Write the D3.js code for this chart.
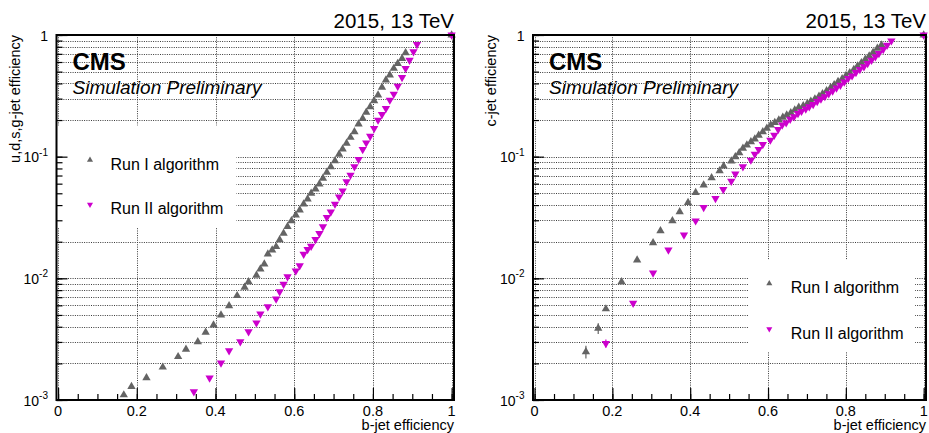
<!DOCTYPE html>
<html><head><meta charset="utf-8">
<script src="https://cdn.jsdelivr.net/npm/d3@7/dist/d3.min.js"></script>
<style>
body{margin:0;background:#fff}
svg{display:block}
text{font-family:"Liberation Sans",Arial,Helvetica,sans-serif;fill:#000}
</style>
</head><body>
<svg id="chart" width="929" height="433"></svg>
<script>
// ---------------- DATA ----------------
// Left panel: light-flavour (u,d,s,g) mistag efficiency vs b-jet efficiency
const leftRun1Eff = [0.167,0.1865,0.2246,0.266,0.305,0.325,0.355,0.375,0.395,0.414,0.4345,0.455,0.474,0.484,0.504,0.514,0.524,0.533,0.544,0.554,0.563,0.573,0.583,0.593,0.604,0.614,0.624,0.634,0.643,0.654,0.664,0.673,0.683,0.693,0.7036,0.714,0.723,0.733,0.743,0.753,0.7635,0.774,0.783,0.793,0.803,0.813,0.823,0.833,0.843,0.853,0.863,0.874,0.883,1.0];
const leftRun1Mis = [1.10e-3,1.29e-3,1.52e-3,1.86e-3,2.27e-3,2.61e-3,3.01e-3,3.60e-3,4.13e-3,4.99e-3,5.95e-3,7.20e-3,8.43e-3,9.37e-3,1.06e-2,1.19e-2,1.31e-2,1.58e-2,1.71e-2,1.82e-2,2.07e-2,2.34e-2,2.66e-2,2.97e-2,3.31e-2,3.64e-2,4.08e-2,4.48e-2,4.99e-2,5.42e-2,5.96e-2,6.63e-2,7.43e-2,8.26e-2,9.25e-2,0.1045,0.1154,0.1285,0.1439,0.160,0.185,0.206,0.231,0.257,0.288,0.321,0.371,0.426,0.468,0.531,0.583,0.641,0.714,1.0];
const leftRun2Eff = [0.345,0.385,0.414,0.4345,0.463,0.484,0.504,0.514,0.533,0.554,0.563,0.573,0.583,0.604,0.614,0.624,0.634,0.643,0.654,0.664,0.673,0.683,0.693,0.7036,0.714,0.723,0.733,0.743,0.753,0.7635,0.774,0.783,0.793,0.803,0.813,0.823,0.833,0.843,0.853,0.863,0.874,0.883,0.893,0.903,0.912,1.0];
const leftRun2Mis = [1.17e-3,1.52e-3,2.02e-3,2.54e-3,3.01e-3,3.64e-3,4.31e-3,5.09e-3,5.85e-3,6.76e-3,7.76e-3,8.97e-3,1.03e-2,1.15e-2,1.27e-2,1.58e-2,1.73e-2,1.84e-2,2.09e-2,2.34e-2,2.66e-2,3.17e-2,3.52e-2,4.08e-2,4.68e-2,5.24e-2,6.22e-2,7.06e-2,8.26e-2,9.5e-2,0.1148,0.130,0.1476,0.1706,0.200,0.2225,0.249,0.292,0.327,0.380,0.448,0.531,0.622,0.728,0.837,1.0];

// Right panel: c-jet mistag efficiency vs b-jet efficiency
const rightRun1Eff = [0.132,0.1636,0.1833,0.2236,0.2636,0.3046,0.3236,0.3543,0.373,0.3944,0.414,0.4346,0.455,0.4756,0.486,0.5056,0.516,0.526,0.5355,0.5456,0.556,0.566,0.576,0.5866,0.597,0.607,0.6174,0.6277,0.638,0.648,0.6585,0.6687,0.679,0.6905,0.701,0.710,0.7205,0.731,0.740,0.7505,0.761,0.770,0.780,0.7905,0.800,0.810,0.8205,0.830,0.840,0.850,0.860,0.870,0.881,0.8915,1.0];
const rightRun1Mis = [2.49e-3,3.88e-3,5.6e-3,9.37e-3,1.41e-2,1.96e-2,2.46e-2,2.97e-2,3.52e-2,4.2e-2,5.06e-2,5.85e-2,6.71e-2,7.66e-2,8.37e-2,9.2e-2,0.0998,0.1076,0.117,0.1245,0.1325,0.1395,0.150,0.160,0.171,0.182,0.191,0.200,0.2105,0.220,0.2296,0.2415,0.254,0.262,0.273,0.285,0.298,0.313,0.329,0.348,0.369,0.390,0.414,0.437,0.462,0.489,0.521,0.555,0.592,0.631,0.671,0.719,0.776,0.826,1.0];
const rightRun1Err = [0.3e-3,0.4e-3];   // errors on the first points (others negligible)
const rightRun2Eff = [0.1833,0.2533,0.3046,0.344,0.384,0.414,0.4346,0.465,0.485,0.5056,0.516,0.5355,0.556,0.566,0.576,0.5866,0.606,0.616,0.626,0.6365,0.6467,0.657,0.667,0.677,0.686,0.697,0.706,0.716,0.7265,0.736,0.746,0.756,0.766,0.776,0.786,0.796,0.806,0.816,0.826,0.836,0.8465,0.856,0.866,0.876,0.885,0.896,0.906,0.917,1.0];
const rightRun2Mis = [2.92e-3,6.24e-3,1.11e-2,1.71e-2,2.27e-2,2.97e-2,3.83e-2,4.54e-2,5.38e-2,6.3e-2,7.2e-2,8.26e-2,9.38e-2,0.105,0.1148,0.126,0.137,0.150,0.1675,0.182,0.190,0.203,0.213,0.227,0.236,0.2465,0.258,0.269,0.284,0.298,0.312,0.329,0.347,0.368,0.387,0.412,0.440,0.462,0.493,0.521,0.549,0.585,0.622,0.663,0.706,0.762,0.826,0.896,1.0];
const rightRun2Err = [0.22e-3];

const seriesNames = ["Run I algorithm", "Run II algorithm"];
const xTickValues = [0, 0.2, 0.4, 0.6, 0.8, 1];
const xTickLabels = ["0", "0.2", "0.4", "0.6", "0.8", "1"];
const yMajorValues = [1e-3, 1e-2, 1e-1, 1];
const yMajorBase = ["10", "10", "10", "1"];
const yMajorExp = ["-3", "-2", "-1", ""];
const energyLabel = "2015, 13 TeV";
const xTitle = "b-jet efficiency";
const yTitles = ["u,d,s,g-jet efficiency", "c-jet efficiency"];

// ---------------- STYLE ----------------
const colRun1 = "#646464";
const colRun2 = "#cc00cc";
const svg = d3.select("#chart");
const plotTop = 35, plotBottom = 400;

const yMinor = [];
for (let e = -3; e < 0; e++) for (let m = 1; m <= 9; m++) yMinor.push(m * Math.pow(10, e));
yMinor.push(1);
const xMinor = d3.range(0, 1.0001, 0.05);

function makeErr(errArr, n) {
  const out = new Array(n).fill(0);
  errArr.forEach((e, i) => out[i] = e);
  return out;
}

function panel(cfg) {
  const g = svg.append("g");
  const x = d3.scaleLinear().domain([-0.004, 1.006]).range([cfg.x0, cfg.x1]);
  const y = d3.scaleLog().domain([1e-3, 1]).range([plotBottom, plotTop]);

  // grid
  const grid = g.append("g").attr("stroke", "#3a3a3a").attr("stroke-width", 1)
    .attr("stroke-dasharray", "1,1.3").attr("fill", "none");
  grid.selectAll("line.h").data(yMinor).join("line").attr("class", "h")
    .attr("x1", cfg.x0).attr("x2", cfg.x1)
    .attr("y1", d => Math.round(y(d)) + 0.5).attr("y2", d => Math.round(y(d)) + 0.5);
  grid.selectAll("line.v").data(xTickValues).join("line").attr("class", "v")
    .attr("x1", d => Math.round(x(d)) + 0.5).attr("x2", d => Math.round(x(d)) + 0.5)
    .attr("y1", plotTop).attr("y2", plotBottom);

  // legend box (white, covers grid)
  g.append("rect").attr("x", cfg.legBox[0]).attr("y", cfg.legBox[1])
    .attr("width", cfg.legBox[2]).attr("height", cfg.legBox[3]).attr("fill", "#fff");

  // data
  const tri = d3.symbol().type(d3.symbolTriangle).size(30);
  const series = [
    {eff: cfg.r1e, mis: cfg.r1m, err: makeErr(cfg.r1err || [], cfg.r1e.length), col: colRun1, rot: 0},
    {eff: cfg.r2e, mis: cfg.r2m, err: makeErr(cfg.r2err || [], cfg.r2e.length), col: colRun2, rot: 180}
  ];
  series.forEach(s => {
    const pts = s.eff.map((e, i) => ({x: e, y: s.mis[i], err: s.err[i]}));
    g.append("g").selectAll("line").data(pts.filter(p => p.err > 0)).join("line")
      .attr("x1", p => x(p.x)).attr("x2", p => x(p.x))
      .attr("y1", p => y(p.y - p.err)).attr("y2", p => y(p.y + p.err))
      .attr("stroke", s.col).attr("stroke-width", 1.2);
    g.append("g").selectAll("path").data(pts).join("path")
      .attr("d", tri)
      .attr("transform", p => `translate(${x(p.x)},${y(p.y)}) rotate(${s.rot})`)
      .attr("fill", s.col);
  });

  // axes ticks (inward)
  const ax = g.append("g").attr("transform", `translate(0,${plotBottom})`);
  ax.call(d3.axisBottom(x).tickValues(xMinor).tickSize(-6).tickFormat(""));
  ax.call(g2 => g2.selectAll(".domain").remove());
  const axM = g.append("g").attr("transform", `translate(0,${plotBottom})`);
  axM.call(d3.axisBottom(x).tickValues(xTickValues).tickSize(-12).tickFormat(""));
  axM.call(g2 => g2.selectAll(".domain").remove());
  const ay = g.append("g").attr("transform", `translate(${cfg.x0},0)`);
  ay.call(d3.axisLeft(y).tickValues(yMinor).tickSize(-6).tickFormat(""));
  ay.call(g2 => g2.selectAll(".domain").remove());
  const ayM = g.append("g").attr("transform", `translate(${cfg.x0},0)`);
  ayM.call(d3.axisLeft(y).tickValues(yMajorValues).tickSize(-11).tickFormat(""));
  ayM.call(g2 => g2.selectAll(".domain").remove());
  g.selectAll(".tick line").attr("stroke", "#000").attr("stroke-width", 1.2);

  // frame
  g.append("rect").attr("x", cfg.x0).attr("y", plotTop)
    .attr("width", cfg.x1 - cfg.x0).attr("height", plotBottom - plotTop)
    .attr("fill", "none").attr("stroke", "#000").attr("stroke-width", 2);

  // x tick labels
  g.append("g").selectAll("text").data(xTickValues).join("text")
    .attr("x", d => x(d)).attr("y", 415.5).attr("text-anchor", "middle")
    .attr("font-size", 14.5).text((d, i) => xTickLabels[i]);

  // y tick labels with superscripts
  const yl = g.append("g").selectAll("text").data(yMajorValues).join("text")
    .attr("x", cfg.x0 - 8.5).attr("y", d => y(d) + (d === 1 ? 6 : 5.5))
    .attr("text-anchor", "end").attr("font-size", 14);
  yl.append("tspan").text((d, i) => yMajorBase[i]);
  yl.append("tspan").attr("font-size", 10).attr("dy", -6.5).text((d, i) => yMajorExp[i]);

  // titles
  g.append("text").attr("x", cfg.x1).attr("y", 430).attr("text-anchor", "end")
    .attr("font-size", 14.5).text(xTitle);
  g.append("text").attr("transform", `translate(${cfg.yTitleX},${plotTop}) rotate(-90)`)
    .attr("text-anchor", "end").attr("font-size", 14.5).text(cfg.yTitle);
  g.append("text").attr("x", cfg.x1).attr("y", 27.5).attr("text-anchor", "end")
    .attr("font-size", 20.5).text(energyLabel);
  g.append("text").attr("x", cfg.x0 + 16).attr("y", 70).attr("font-size", 24)
    .attr("font-weight", "bold").text("CMS");
  g.append("text").attr("x", cfg.x0 + 16).attr("y", 94).attr("font-size", 19)
    .attr("font-style", "italic").text("Simulation Preliminary");

  // legend
  const legTri = d3.symbol().type(d3.symbolTriangle).size(16);
  [colRun1, colRun2].forEach((c, i) => {
    g.append("path").attr("d", legTri)
      .attr("transform", `translate(${cfg.leg[0]},${cfg.leg[1] + i * cfg.leg[3]}) rotate(${i ? 180 : 0})`)
      .attr("fill", c);
    g.append("text").attr("x", cfg.leg[2]).attr("y", cfg.leg[1] + i * cfg.leg[3] + 9.5)
      .attr("font-size", 16).text(seriesNames[i]);
  });
}

panel({
  x0: 56.5, x1: 454, yTitleX: 20, yTitle: yTitles[0],
  r1e: leftRun1Eff, r1m: leftRun1Mis, r2e: leftRun2Eff, r2m: leftRun2Mis,
  legBox: [57.5, 125.5, 179, 102.5],
  leg: [90, 160, 110.5, 44.5]
});
panel({
  x0: 533, x1: 926, yTitleX: 495.5, yTitle: yTitles[1],
  r1e: rightRun1Eff, r1m: rightRun1Mis, r2e: rightRun2Eff, r2m: rightRun2Mis,
  r1err: rightRun1Err, r2err: rightRun2Err,
  legBox: [748.5, 260, 166.5, 92],
  leg: [769.3, 283.5, 790.7, 45.5]
});
</script>
</body></html>
